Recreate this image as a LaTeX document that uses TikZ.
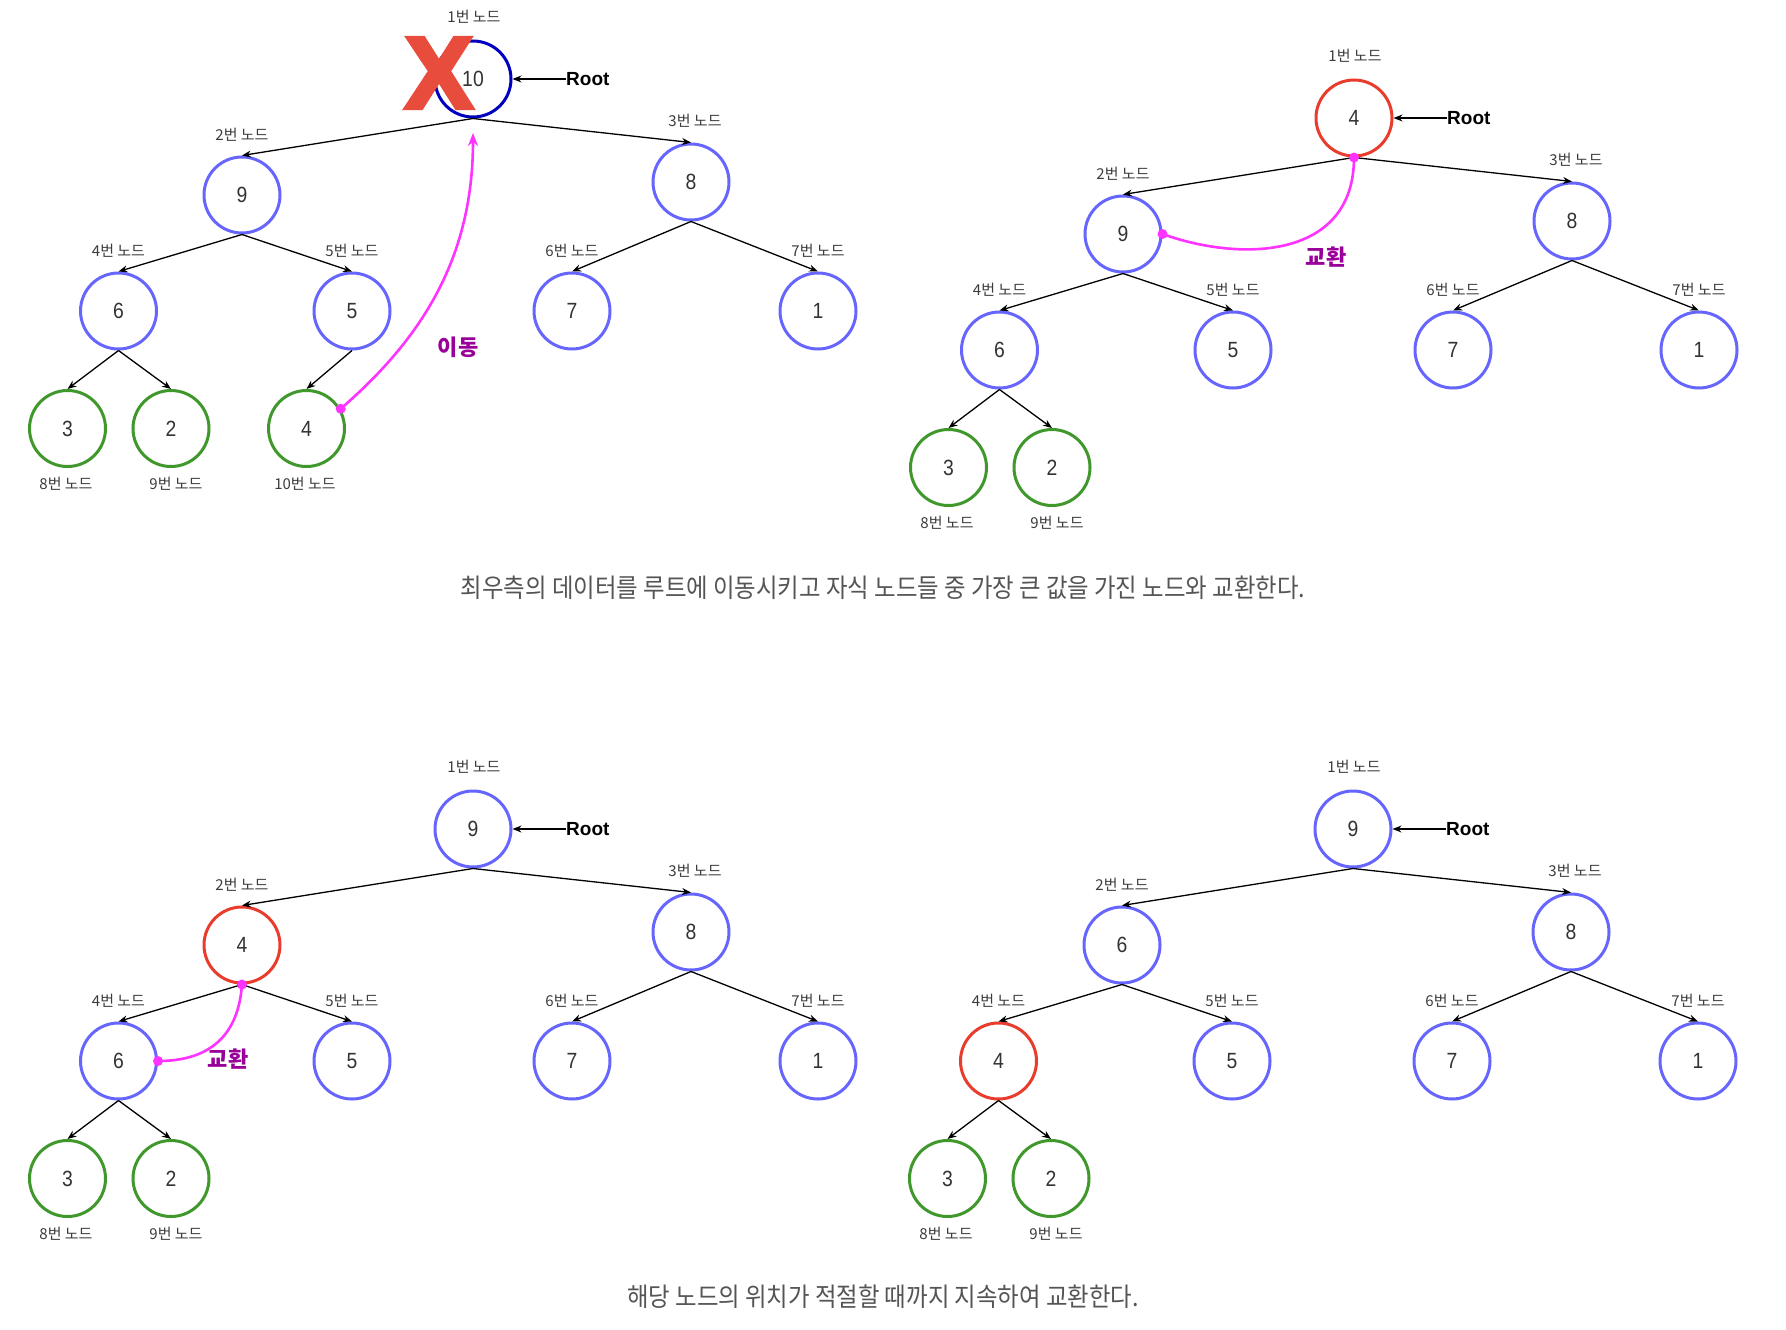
\documentclass[tikz,border=0pt]{standalone}
\usepackage{fontspec}
\usetikzlibrary{arrows.meta}
\newfontfamily\krfont{Noto Sans CJK KR}
\newfontfamily\capfont[FakeStretch=0.90]{Noto Sans CJK KR}
\newfontfamily\numfont[FakeStretch=0.88]{Liberation Sans}
\newfontfamily\rootfont{Liberation Sans}
\newfontfamily\xfont[FakeBold=4]{Liberation Sans}
\definecolor{nodeblue}{RGB}{102,102,255}
\definecolor{darkblue}{RGB}{0,0,190}
\definecolor{nodegreen}{RGB}{64,152,44}
\definecolor{nodered}{RGB}{234,60,45}
\definecolor{xred}{RGB}{232,76,61}
\definecolor{mag}{RGB}{255,51,255}
\definecolor{purp}{RGB}{153,0,153}
\definecolor{numgray}{RGB}{51,51,51}
\definecolor{lblgray}{RGB}{60,60,60}
\definecolor{capgray}{RGB}{85,85,85}
\tikzset{
  hnode/.style={circle, draw=#1, line width=3pt, minimum size=76pt, inner sep=0pt,
    font=\numfont\fontsize{22}{22}\selectfont, text=numgray},
  lbl/.style={font=\krfont\fontsize{15}{15}\selectfont, text=lblgray, inner sep=0pt},
  edge/.style={line width=1.3pt, -{Stealth[length=9pt,width=7pt]}},
  rootlbl/.style={font=\rootfont\bfseries\fontsize{19}{20}\selectfont, anchor=west, inner sep=0pt},
  mline/.style={draw=mag, line width=2.6pt},
  mdot/.style={circle, fill=mag, inner sep=0pt, minimum size=10pt},
  mtext/.style={font=\krfont\bfseries\fontsize{22}{22}\selectfont, text=purp, inner sep=0pt},
  captext/.style={font=\capfont\fontsize{26}{26}\selectfont, text=capgray, inner sep=0pt},
}
\begin{document}
\begin{tikzpicture}[x=1pt,y=-1pt]
\useasboundingbox[fill=white] (0,0) rectangle (1786,1330);

% ---------- Panel A ----------
\node[hnode=darkblue] (a1) at (473,79) {10};
\node[hnode=nodeblue] (a2) at (242,195) {9};
\node[hnode=nodeblue] (a3) at (691,182) {8};
\node[hnode=nodeblue] (a4) at (118.5,311) {6};
\node[hnode=nodeblue] (a5) at (352,311) {5};
\node[hnode=nodeblue] (a6) at (572,311) {7};
\node[hnode=nodeblue] (a7) at (818,311) {1};
\node[hnode=nodegreen] (a8) at (67.5,428.5) {3};
\node[hnode=nodegreen] (a9) at (171,428.5) {2};
\node[hnode=nodegreen] (a10) at (306.5,428.5) {4};
\node[lbl] (la1) at (474,17) {1번 노드};
\node[lbl] (la2) at (242,135) {2번 노드};
\node[lbl] (la3) at (695,121) {3번 노드};
\node[lbl] (la4) at (118.5,251) {4번 노드};
\node[lbl] (la5) at (352,251) {5번 노드};
\node[lbl] (la6) at (572,251) {6번 노드};
\node[lbl] (la7) at (818,251) {7번 노드};
\node[lbl] (la8) at (66,484) {8번 노드};
\node[lbl] (la9) at (176,484) {9번 노드};
\node[lbl] (la10) at (305,484) {10번 노드};
\draw[edge] (a1.south) -- (a2.north);
\draw[edge] (a1.south) -- (a3.north);
\draw[edge] (a2.south) -- (a4.north);
\draw[edge] (a2.south) -- (a5.north);
\draw[edge] (a3.south) -- (a6.north);
\draw[edge] (a3.south) -- (a7.north);
\draw[edge] (a4.south) -- (a8.north);
\draw[edge] (a4.south) -- (a9.north);
\draw[edge] (a5.south) -- (a10.north);
\node[rootlbl] (ra) at (566,79) {Root};
\draw[edge] (ra.west) -- (a1.east);
\node[font=\xfont\bfseries\fontsize{102}{102}\selectfont, text=xred, inner sep=0pt] (xa) at (439,73) {X};
\coordinate (ms1) at (a10.30);
\coordinate (me1) at (473,133);
\draw[mline, -{Stealth[length=13pt,width=10pt]}] (ms1) .. controls (420,340) and (473,260) .. (me1);
\node[mdot] (da1) at (ms1) {};
\node[mtext] (ta) at (458,347) {이동};

% ---------- Panel B ----------
\begin{scope}[shift={(881,39)}]
\node[hnode=nodered] (b1) at (473,79) {4};
\node[hnode=nodeblue] (b2) at (242,195) {9};
\node[hnode=nodeblue] (b3) at (691,182) {8};
\node[hnode=nodeblue] (b4) at (118.5,311) {6};
\node[hnode=nodeblue] (b5) at (352,311) {5};
\node[hnode=nodeblue] (b6) at (572,311) {7};
\node[hnode=nodeblue] (b7) at (818,311) {1};
\node[hnode=nodegreen] (b8) at (67.5,428.5) {3};
\node[hnode=nodegreen] (b9) at (171,428.5) {2};
\node[lbl] (lb1) at (474,17) {1번 노드};
\node[lbl] (lb2) at (242,135) {2번 노드};
\node[lbl] (lb3) at (695,121) {3번 노드};
\node[lbl] (lb4) at (118.5,251) {4번 노드};
\node[lbl] (lb5) at (352,251) {5번 노드};
\node[lbl] (lb6) at (572,251) {6번 노드};
\node[lbl] (lb7) at (818,251) {7번 노드};
\node[lbl] (lb8) at (66,484) {8번 노드};
\node[lbl] (lb9) at (176,484) {9번 노드};
\node[rootlbl] (rb) at (566,79) {Root};
\end{scope}
\draw[edge] (b1.south) -- (b2.north);
\draw[edge] (b1.south) -- (b3.north);
\draw[edge] (b2.south) -- (b4.north);
\draw[edge] (b2.south) -- (b5.north);
\draw[edge] (b3.south) -- (b6.north);
\draw[edge] (b3.south) -- (b7.north);
\draw[edge] (b4.south) -- (b8.north);
\draw[edge] (b4.south) -- (b9.north);
\draw[edge] (rb.west) -- (b1.east);
\coordinate (ms2) at (b1.south);
\coordinate (me2) at (b2.east);
\draw[mline] (ms2) .. controls (1354,260) and (1240,262) .. (me2);
\node[mdot] (db1) at (ms2) {};
\node[mdot] (db2) at (me2) {};
\node[mtext] (tb) at (1326,257) {교환};

% ---------- Panel C ----------
\begin{scope}[shift={(0,750)}]
\node[hnode=nodeblue] (c1) at (473,79) {9};
\node[hnode=nodered] (c2) at (242,195) {4};
\node[hnode=nodeblue] (c3) at (691,182) {8};
\node[hnode=nodeblue] (c4) at (118.5,311) {6};
\node[hnode=nodeblue] (c5) at (352,311) {5};
\node[hnode=nodeblue] (c6) at (572,311) {7};
\node[hnode=nodeblue] (c7) at (818,311) {1};
\node[hnode=nodegreen] (c8) at (67.5,428.5) {3};
\node[hnode=nodegreen] (c9) at (171,428.5) {2};
\node[lbl] (lc1) at (474,17) {1번 노드};
\node[lbl] (lc2) at (242,135) {2번 노드};
\node[lbl] (lc3) at (695,121) {3번 노드};
\node[lbl] (lc4) at (118.5,251) {4번 노드};
\node[lbl] (lc5) at (352,251) {5번 노드};
\node[lbl] (lc6) at (572,251) {6번 노드};
\node[lbl] (lc7) at (818,251) {7번 노드};
\node[lbl] (lc8) at (66,484) {8번 노드};
\node[lbl] (lc9) at (176,484) {9번 노드};
\node[rootlbl] (rc) at (566,79) {Root};
\end{scope}
\draw[edge] (c1.south) -- (c2.north);
\draw[edge] (c1.south) -- (c3.north);
\draw[edge] (c2.south) -- (c4.north);
\draw[edge] (c2.south) -- (c5.north);
\draw[edge] (c3.south) -- (c6.north);
\draw[edge] (c3.south) -- (c7.north);
\draw[edge] (c4.south) -- (c8.north);
\draw[edge] (c4.south) -- (c9.north);
\draw[edge] (rc.west) -- (c1.east);
\coordinate (ms3) at (c2.south);
\coordinate (me3) at (c4.east);
\draw[mline] (ms3) .. controls (238,1040) and (205,1061) .. (me3);
\node[mdot] (dc1) at (ms3) {};
\node[mdot] (dc2) at (me3) {};
\node[mtext] (tc) at (228,1059) {교환};

% ---------- Panel D ----------
\begin{scope}[shift={(880,750)}]
\node[hnode=nodeblue] (d1) at (473,79) {9};
\node[hnode=nodeblue] (d2) at (242,195) {6};
\node[hnode=nodeblue] (d3) at (691,182) {8};
\node[hnode=nodered] (d4) at (118.5,311) {4};
\node[hnode=nodeblue] (d5) at (352,311) {5};
\node[hnode=nodeblue] (d6) at (572,311) {7};
\node[hnode=nodeblue] (d7) at (818,311) {1};
\node[hnode=nodegreen] (d8) at (67.5,428.5) {3};
\node[hnode=nodegreen] (d9) at (171,428.5) {2};
\node[lbl] (ld1) at (474,17) {1번 노드};
\node[lbl] (ld2) at (242,135) {2번 노드};
\node[lbl] (ld3) at (695,121) {3번 노드};
\node[lbl] (ld4) at (118.5,251) {4번 노드};
\node[lbl] (ld5) at (352,251) {5번 노드};
\node[lbl] (ld6) at (572,251) {6번 노드};
\node[lbl] (ld7) at (818,251) {7번 노드};
\node[lbl] (ld8) at (66,484) {8번 노드};
\node[lbl] (ld9) at (176,484) {9번 노드};
\node[rootlbl] (rd) at (566,79) {Root};
\end{scope}
\draw[edge] (d1.south) -- (d2.north);
\draw[edge] (d1.south) -- (d3.north);
\draw[edge] (d2.south) -- (d4.north);
\draw[edge] (d2.south) -- (d5.north);
\draw[edge] (d3.south) -- (d6.north);
\draw[edge] (d3.south) -- (d7.north);
\draw[edge] (d4.south) -- (d8.north);
\draw[edge] (d4.south) -- (d9.north);
\draw[edge] (rd.west) -- (d1.east);

% ---------- Captions ----------
\node[captext] (cap1) at (883,588) {최우측의 데이터를 루트에 이동시키고 자식 노드들 중 가장 큰 값을 가진 노드와 교환한다.};
\node[captext] (cap2) at (883,1297) {해당 노드의 위치가 적절할 때까지 지속하여 교환한다.};
\end{tikzpicture}
\end{document}
